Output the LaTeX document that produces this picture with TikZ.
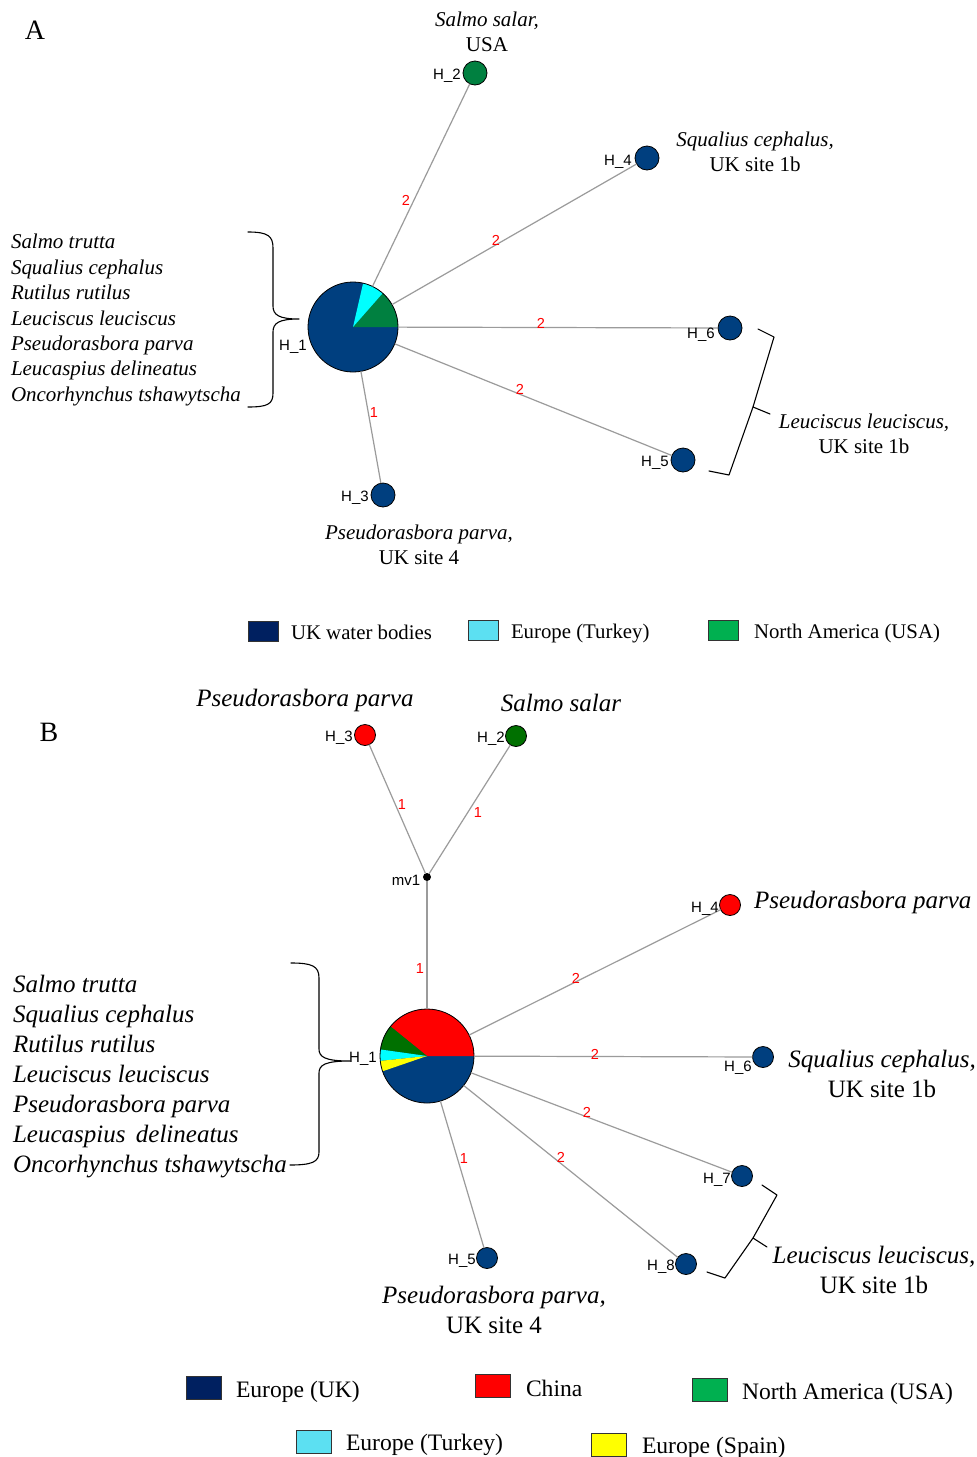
\documentclass[tikz,border=0pt]{standalone}
\usepackage{fontspec}
\setmainfont{Liberation Serif}
\newfontfamily\arial{Liberation Sans}
\definecolor{pieblue}{RGB}{0,63,127}
\definecolor{piegreenA}{RGB}{0,128,64}
\definecolor{piegreenB}{RGB}{0,112,0}
\definecolor{piecyan}{RGB}{0,255,255}
\definecolor{piered}{RGB}{255,0,0}
\definecolor{pieyellow}{RGB}{255,255,0}
\definecolor{legnavy}{RGB}{0,32,96}
\definecolor{legcyan}{RGB}{92,224,242}
\definecolor{leggreen}{RGB}{0,176,80}
\definecolor{edgegray}{RGB}{155,155,155}
\begin{document}
\begin{tikzpicture}[x=1pt,y=1pt,
  every node/.style={inner sep=0pt, outer sep=0pt},
  hap/.style={circle, draw=black, line width=0.8pt, minimum size=24pt},
  hapb/.style={hap, minimum size=21pt},
  pienode/.style={circle, minimum size=#1},
  edge/.style={draw=edgegray, line width=1.2pt},
  lbl/.style={font=\arial\fontsize{15}{17}\selectfont},
  elbl/.style={font=\arial\fontsize{14.5}{16}\selectfont, text=red},
  spA/.style={font=\fontsize{21}{25.4}\selectfont\itshape},
  spB/.style={font=\fontsize{25}{30}\selectfont\itshape},
  legA/.style={font=\fontsize{20.8}{24}\selectfont},
  legB/.style={font=\fontsize{23.6}{27}\selectfont},
  swatchA/.style={draw=black!80, line width=0.6pt, minimum width=30pt, minimum height=20pt},
  swatchB/.style={draw=black!80, line width=0.6pt, minimum width=35pt, minimum height=23pt},
  brace/.style={draw=black, line width=1.1pt, line join=round, line cap=round},
  panel/.style={font=\fontsize{28}{32}\selectfont},
]
\useasboundingbox (0,0) rectangle (977,-1457);
\fill[white] (0,0) rectangle (977,-1457);

%%%%%%%%%%%%%%%%%%%% PANEL A %%%%%%%%%%%%%%%%%%%%
\node[panel] (pA) at (35,-30) {A};

% pie H_1
\node[pienode=90pt] (A1) at (353,-327) {};
\fill[pieblue] (A1.center) circle[radius=45];
\fill[piegreenA] (A1.center) -- ++(0:45) arc[start angle=0, end angle=48.7, radius=45] -- cycle;
\fill[piecyan] (A1.center) -- ++(48.7:45) arc[start angle=48.7, end angle=77, radius=45] -- cycle;
\draw[line width=0.8pt] (A1.center) circle[radius=45];

\node[hap, fill=piegreenA] (A2) at (475,-73) {};
\node[hap, fill=pieblue] (A4) at (647,-158) {};
\node[hap, fill=pieblue] (A6) at (730,-328) {};
\node[hap, fill=pieblue] (A5) at (683,-460) {};
\node[hap, fill=pieblue] (A3) at (383,-495) {};

\draw[edge] (A1) -- (A2);
\draw[edge] (A1) -- (A4);
\draw[edge] (A1) -- (A6);
\draw[edge] (A1) -- (A5);
\draw[edge] (A1) -- (A3);

\node[elbl] (eA2) at (406,-200) {2};
\node[elbl] (eA4) at (496,-240) {2};
\node[elbl] (eA6) at (541,-323) {2};
\node[elbl] (eA5) at (520,-389) {2};
\node[elbl] (eA3) at (374,-413) {1};

\node[lbl] (lA1) at (293,-347) {H\_1};
\node[lbl] (lA2) at (447,-76) {H\_2};
\node[lbl] (lA4) at (618,-162) {H\_4};
\node[lbl] (lA6) at (701,-335) {H\_6};
\node[lbl] (lA5) at (655,-463) {H\_5};
\node[lbl] (lA3) at (355,-498) {H\_3};

\node[spA, align=center] (tA2) at (487,-32) {Salmo salar,\\\upshape USA};
\node[spA, align=center] (tA4) at (755,-152) {Squalius cephalus,\\\upshape UK site 1b};
\node[spA, align=center] (tA56) at (864,-434) {Leuciscus leuciscus,\\\upshape UK site 1b};
\node[spA, align=center] (tA3) at (419,-545) {Pseudorasbora parva,\\\upshape UK site 4};

\node[spA, align=left, anchor=west] (listA) at (11,-320) {Salmo trutta\\Squalius cephalus\\Rutilus rutilus\\Leuciscus leuciscus\\Pseudorasbora parva\\Leucaspius delineatus\\Oncorhynchus tshawytscha};

\draw[brace] (248,-232) .. controls (268,-232) and (273,-236) .. (273,-248) -- (273,-306)
  .. controls (273,-315) and (279,-319) .. (299,-319)
  .. controls (279,-319) and (273,-323) .. (273,-332) -- (273,-393)
  .. controls (273,-404) and (268,-407) .. (248,-407);

\draw[brace] (758,-329) -- (774,-337) -- (753,-407) -- (770,-414);
\draw[brace] (753,-407) -- (729,-475) -- (709,-471);

% legend A
\node[swatchA, fill=legnavy] (sA1) at (263,-631) {};
\node[legA, anchor=base west] (gA1) at (291,-639) {UK water bodies};
\node[swatchA, fill=legcyan] (sA2) at (483,-630) {};
\node[legA, anchor=base west] (gA2) at (511,-638) {Europe (Turkey)};
\node[swatchA, fill=leggreen] (sA3) at (723,-630) {};
\node[legA, anchor=base west] (gA3) at (754,-638) {North America (USA)};

%%%%%%%%%%%%%%%%%%%% PANEL B %%%%%%%%%%%%%%%%%%%%
\node[panel] (pB) at (49,-732) {B};

\node[pienode=94pt] (B1) at (427,-1056) {};
\fill[pieblue] (B1.center) circle[radius=47];
\fill[piered] (B1.center) -- ++(0:47) arc[start angle=0, end angle=141, radius=47] -- cycle;
\fill[piegreenB] (B1.center) -- ++(141:47) arc[start angle=141, end angle=172, radius=47] -- cycle;
\fill[piecyan] (B1.center) -- ++(172:47) arc[start angle=172, end angle=186, radius=47] -- cycle;
\fill[pieyellow] (B1.center) -- ++(186:47) arc[start angle=186, end angle=199, radius=47] -- cycle;
\draw[line width=0.8pt] (B1.center) circle[radius=47];

\node[hapb, fill=piered] (B3) at (365,-735) {};
\node[hapb, fill=piegreenB] (B2) at (516,-736) {};
\node[circle, fill=black, minimum size=8pt] (mv) at (427,-877) {};
\node[hapb, fill=piered] (B4) at (730,-905) {};
\node[hapb, fill=pieblue] (B6) at (763,-1057) {};
\node[hapb, fill=pieblue] (B7) at (742,-1176) {};
\node[hapb, fill=pieblue] (B8) at (686,-1264) {};
\node[hapb, fill=pieblue] (B5) at (487,-1258) {};

\draw[edge] (B3) -- (mv);
\draw[edge] (B2) -- (mv);
\draw[edge] (mv) -- (B1);
\draw[edge] (B1) -- (B4);
\draw[edge] (B1) -- (B6);
\draw[edge] (B1) -- (B7);
\draw[edge] (B1) -- (B8);
\draw[edge] (B1) -- (B5);

\node[elbl] (eB3) at (402,-805) {1};
\node[elbl] (eB2) at (478,-813) {1};
\node[elbl] (eBm) at (420,-968) {1};
\node[elbl] (eB4) at (576,-978) {2};
\node[elbl] (eB6) at (595,-1054) {2};
\node[elbl] (eB7) at (587,-1112) {2};
\node[elbl] (eB8) at (561,-1157) {2};
\node[elbl] (eB5) at (464,-1158) {1};

\node[lbl] (lB1) at (363,-1059) {H\_1};
\node[lbl] (lB3) at (339,-738) {H\_3};
\node[lbl] (lB2) at (491,-739) {H\_2};
\node[lbl] (lmv) at (406,-880) {mv1};
\node[lbl] (lB4) at (705,-909) {H\_4};
\node[lbl] (lB6) at (738,-1068) {H\_6};
\node[lbl] (lB7) at (717,-1180) {H\_7};
\node[lbl] (lB8) at (661,-1267) {H\_8};
\node[lbl] (lB5) at (462,-1261) {H\_5};

\node[spB] (tB3) at (305,-700) {Pseudorasbora parva};
\node[spB] (tB2) at (561,-703) {Salmo salar};
\node[spB, anchor=west] (tB4) at (754,-902) {Pseudorasbora parva};
\node[spB, align=center] (tB6) at (882,-1074) {Squalius cephalus,\\\upshape UK site 1b};
\node[spB, align=center] (tB78) at (874,-1270) {Leuciscus leuciscus,\\\upshape UK site 1b};
\node[spB, align=center] (tB5) at (494,-1310) {Pseudorasbora parva,\\\upshape UK site 4};

\node[spB, align=left, anchor=west] (listB) at (13,-1077) {Salmo trutta\\Squalius cephalus\\Rutilus rutilus\\Leuciscus leuciscus\\Pseudorasbora parva\\Leucaspius\, delineatus\\Oncorhynchus tshawytscha};

\draw[brace] (291,-963) .. controls (312,-963) and (319,-966) .. (319,-978) -- (319,-1049)
  .. controls (319,-1057) and (325,-1061) .. (350,-1061)
  .. controls (325,-1061) and (319,-1065) .. (319,-1073) -- (319,-1152)
  .. controls (319,-1162) and (312,-1165) .. (290,-1165);

\draw[brace] (762,-1185) -- (777,-1195) -- (753,-1238) -- (767,-1247);
\draw[brace] (753,-1238) -- (725,-1278) -- (707,-1272);

% legend B
\node[swatchB, fill=legnavy] (sB1) at (204,-1388) {};
\node[legB, anchor=base west] (gB1) at (236,-1397) {Europe (UK)};
\node[swatchB, fill=piered] (sB2) at (493,-1386) {};
\node[legB, anchor=base west] (gB2) at (526,-1396) {China};
\node[swatchB, fill=leggreen] (sB3) at (710,-1390) {};
\node[legB, anchor=base west] (gB3) at (742,-1399) {North America (USA)};
\node[swatchB, fill=legcyan] (sB4) at (314,-1442) {};
\node[legB, anchor=base west] (gB4) at (346,-1450) {Europe (Turkey)};
\node[swatchB, fill=pieyellow] (sB5) at (609,-1445) {};
\node[legB, anchor=base west] (gB5) at (642,-1453) {Europe (Spain)};
\end{tikzpicture}
\end{document}
